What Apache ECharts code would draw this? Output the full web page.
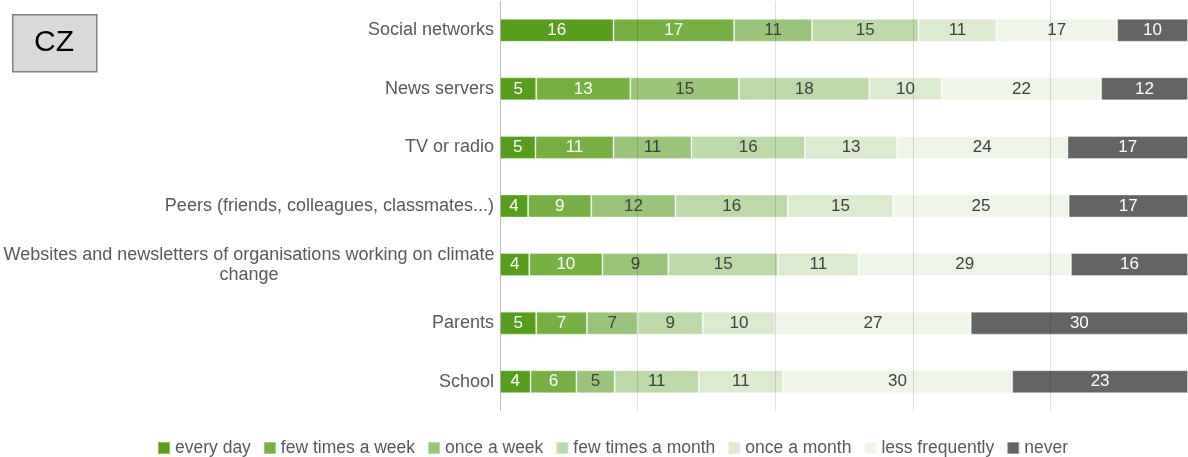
<!DOCTYPE html>
<html>
<head>
<meta charset="utf-8">
<script src="https://cdn.jsdelivr.net/npm/echarts@6/dist/echarts.min.js"></script>
<style>
  html, body { margin: 0; padding: 0; background: #fff; }
  #chart { width: 1188px; height: 457px; }
</style>
</head>
<body>
<div id="chart"></div>
<script>
// Sources of information about climate change, CZ (percent of respondents)
const categories = [
  'Social networks',
  'News servers',
  'TV or radio',
  'Peers (friends, colleagues, classmates...)',
  'Websites and newsletters of organisations working on climate\nchange',
  'Parents',
  'School'
];
const seriesNames = ['every day', 'few times a week', 'once a week', 'few times a month', 'once a month', 'less frequently', 'never'];
const everyDay   = [16, 5, 5, 4, 4, 5, 4];
const fewWeek    = [17, 13, 11, 9, 10, 7, 6];
const onceWeek   = [11, 15, 11, 12, 9, 7, 5];
const fewMonth   = [15, 18, 16, 16, 15, 9, 11];
const onceMonth  = [11, 10, 13, 15, 11, 10, 11];
const lessFreq   = [17, 22, 24, 25, 29, 27, 30];
const never      = [10, 12, 17, 17, 16, 30, 23];

const values = [everyDay, fewWeek, onceWeek, fewMonth, onceMonth, lessFreq, never];
const colors = ['#579d1e', '#76b043', '#9ac47a', '#bdd9a7', '#dceacf', '#eef5e8', '#646464'];
const labelColors = ['#ffffff', '#ffffff', '#404040', '#404040', '#404040', '#404040', '#ffffff'];

// each row is drawn as a 100 % stack of the answered shares
const rowTotals = categories.map((_, i) => values.reduce((s, arr) => s + arr[i], 0));

const FONT = '"Liberation Sans", Arial, sans-serif';

const series = values.map((arr, k) => ({
  name: seriesNames[k],
  type: 'bar',
  stack: 'all',
  barWidth: 23,
  data: arr.map((v, i) => ({ value: v / rowTotals[i] * 100, raw: v })),
  itemStyle: { color: colors[k], borderColor: 'rgba(255,255,255,0.35)', borderWidth: 1 },
  label: {
    show: true,
    position: 'inside',
    color: labelColors[k],
    fontFamily: FONT,
    fontSize: 17,
    formatter: p => String(p.data.raw)
  },
  emphasis: { disabled: true },
  animation: false
}));

const chart = echarts.init(document.getElementById('chart'), null, { renderer: 'canvas' });
chart.setOption({
  backgroundColor: '#ffffff',
  animation: false,
  grid: { left: 500, right: 0, top: 1, bottom: 46, containLabel: false },
  xAxis: {
    type: 'value',
    min: 0,
    max: 100,
    interval: 20,
    z: 5,
    axisLabel: { show: false },
    axisLine: { show: false },
    axisTick: { show: false },
    splitLine: { show: true, lineStyle: { color: 'rgba(0,0,0,0.13)', width: 1 } }
  },
  yAxis: {
    type: 'category',
    inverse: true,
    data: categories,
    axisLine: { show: true, lineStyle: { color: '#d9d9d9', width: 1 } },
    axisTick: { show: false },
    axisLabel: {
      margin: 6,
      color: '#595959',
      fontFamily: FONT,
      fontSize: 18,
      lineHeight: 20,
      formatter: v => v.includes('\n')
        ? v.split('\n').map(line => '{w|' + line + '}').join('\n')
        : v,
      rich: {
        w: { width: 490, align: 'center', color: '#595959', fontFamily: FONT, fontSize: 18, lineHeight: 20 }
      }
    }
  },
  legend: {
    top: 434,
    left: 152,
    icon: 'rect',
    itemWidth: 12,
    itemHeight: 12,
    itemGap: 12,
    textStyle: { color: '#595959', fontFamily: FONT, fontSize: 17.5 },
    data: seriesNames
  },
  graphic: [
    {
      type: 'rect',
      left: 12,
      top: 14,
      shape: { width: 84, height: 57 },
      style: { fill: '#d9d9d9', stroke: '#808080', lineWidth: 1.5 }
    },
    {
      type: 'text',
      x: 54,
      y: 43,
      style: { text: 'CZ', fill: '#000000', font: '30px ' + FONT, textAlign: 'center', textVerticalAlign: 'middle' }
    }
  ],
  series: series
});
</script>
</body>
</html>
